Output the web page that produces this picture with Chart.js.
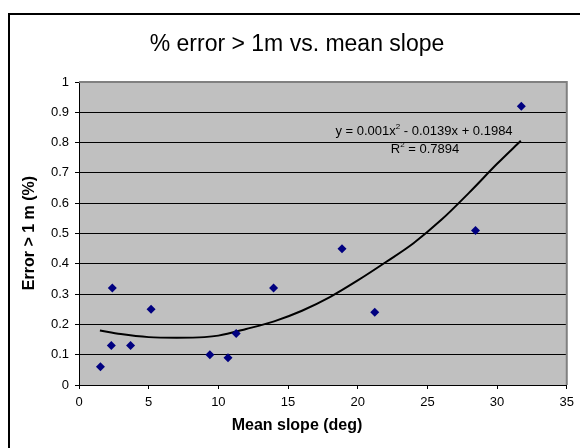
<!DOCTYPE html>
<html>
<head>
<meta charset="utf-8">
<script src="https://cdn.jsdelivr.net/npm/chart.js@4.4.0/dist/chart.umd.min.js"></script>
<style>
  html, body { margin: 0; padding: 0; background: #fff; overflow: hidden; }
  #wrap { position: relative; width: 580px; height: 448px; }
  #frame { position: absolute; left: 8px; top: 13px; width: 700px; height: 600px; border: 2px solid #000; box-sizing: border-box; }
  canvas { position: absolute; left: 0; top: 0; }
</style>
</head>
<body>
<div id="wrap">
  <div id="frame"></div>
  <canvas id="chart" width="580" height="448"></canvas>
</div>
<script>
/* ===== Datos ===== */
const slopeDeg = [1.54, 2.32, 2.39, 3.7, 5.17, 9.39, 10.69, 11.28, 13.96, 18.87, 21.22, 28.45, 31.74];
const errorFrac = [0.06, 0.13, 0.32, 0.13, 0.25, 0.10, 0.09, 0.17, 0.32, 0.45, 0.24, 0.51, 0.92];

// curva de tendencia
const trendX = [1.5, 3, 5, 7, 9, 10, 12, 14, 16, 18, 20, 22, 24, 26, 28, 30, 31.7];
const trendY = [0.18, 0.168, 0.158, 0.156, 0.158, 0.163, 0.185, 0.21, 0.245, 0.29, 0.345, 0.405, 0.468, 0.545, 0.635, 0.73, 0.806];

const xTicks = [0, 5, 10, 15, 20, 25, 30, 35];
const yTicks = ["0", "0.1", "0.2", "0.3", "0.4", "0.5", "0.6", "0.7", "0.8", "0.9", "1"];

const chartTitle = "% error > 1m vs. mean slope";
const xTitle = "Mean slope (deg)";
const yTitle = "Error > 1 m (%)";
const eqLine = [["y = 0.001x", false], ["2", true], [" - 0.0139x + 0.1984", false]];
const r2Line = [["R", false], ["2", true], [" = 0.7894", false]];

const FONT = "'Liberation Sans', Arial, sans-serif";

/* ===== Helpers ===== */
function drawParts(ctx, parts, cx, cy, size) {
  const widths = parts.map(([t, sup]) => {
    ctx.font = `${sup ? Math.round(size * 0.65) : size}px ${FONT}`;
    return ctx.measureText(t).width;
  });
  let x = cx - widths.reduce((s, w) => s + w, 0) / 2;
  ctx.textAlign = "left";
  parts.forEach(([t, sup], i) => {
    ctx.font = `${sup ? Math.round(size * 0.65) : size}px ${FONT}`;
    ctx.fillText(t, x, sup ? cy - size * 0.35 : cy);
    x += widths[i];
  });
}

const decor = {
  id: "decor",
  beforeDraw(chart) {
    const { ctx, chartArea: a } = chart;
    ctx.save();
    ctx.fillStyle = "#c0c0c0";
    ctx.fillRect(a.left, a.top, a.right - a.left, a.bottom - a.top);
    ctx.restore();
  },
  afterDraw(chart) {
    const { ctx, chartArea: a } = chart;
    ctx.save();
    ctx.strokeStyle = "#808080";
    ctx.lineWidth = 2;
    ctx.beginPath();
    ctx.moveTo(a.left, a.top);
    ctx.lineTo(a.right, a.top);
    ctx.lineTo(a.right, a.bottom);
    ctx.stroke();

    ctx.fillStyle = "#000";
    ctx.textBaseline = "middle";
    ctx.textAlign = "center";
    ctx.font = `23px ${FONT}`;
    ctx.fillText(chartTitle, 297, 45);

    ctx.font = `bold 16px ${FONT}`;
    ctx.fillText(xTitle, 297, 426);

    ctx.save();
    ctx.translate(30, 233);
    ctx.rotate(-Math.PI / 2);
    ctx.font = `bold 16px ${FONT}`;
    ctx.fillText(yTitle, 0, 0);
    ctx.restore();

    drawParts(ctx, eqLine, 424, 131, 13);
    drawParts(ctx, r2Line, 425, 149, 13);
    ctx.restore();
  },
};

/* ===== Chart ===== */
const ctx = document.getElementById("chart").getContext("2d");

new Chart(ctx, {
  type: "scatter",
  data: {
    datasets: [
      {
        label: "Error",
        data: slopeDeg.map((x, i) => ({ x, y: errorFrac[i] })),
        pointStyle: "rectRot",
        pointRadius: 4.5,
        pointHoverRadius: 4.5,
        backgroundColor: "#000080",
        borderColor: "#000080",
        borderWidth: 0,
      },
      {
        label: "Tendencia",
        data: trendX.map((x, i) => ({ x, y: trendY[i] })),
        showLine: true,
        pointRadius: 0,
        borderColor: "#000",
        borderWidth: 2,
        cubicInterpolationMode: "monotone",
      },
    ],
  },
  options: {
    responsive: false,
    animation: false,
    layout: { padding: { top: 82, right: 9, left: 0, bottom: 0 } },
    plugins: { legend: { display: false }, tooltip: { enabled: false } },
    scales: {
      x: {
        type: "linear",
        min: 0,
        max: 35,
        afterFit: (s) => { s.height = 63; },
        afterBuildTicks: (s) => { s.ticks = xTicks.map((v) => ({ value: v })); },
        grid: { drawOnChartArea: false, drawTicks: true, tickLength: 4, color: "#000" },
        border: { color: "#000", width: 1 },
        ticks: { color: "#000", padding: 6, maxRotation: 0, font: { family: FONT, size: 13 } },
      },
      y: {
        min: 0,
        max: 1,
        afterFit: (s) => { s.width = 79; },
        afterBuildTicks: (s) => { s.ticks = yTicks.map((t) => ({ value: Number(t) })); },
        grid: {
          color: (c) => (c.tick && c.tick.value === 1 ? "rgba(0,0,0,0)" : "#000"),
          tickColor: "#000",
          tickLength: 4,
        },
        border: { color: "#000", width: 1 },
        ticks: {
          color: "#000",
          padding: 6,
          font: { family: FONT, size: 13 },
          callback: (v, i) => yTicks[i],
        },
      },
    },
  },
  plugins: [decor],
});
</script>
</body>
</html>
